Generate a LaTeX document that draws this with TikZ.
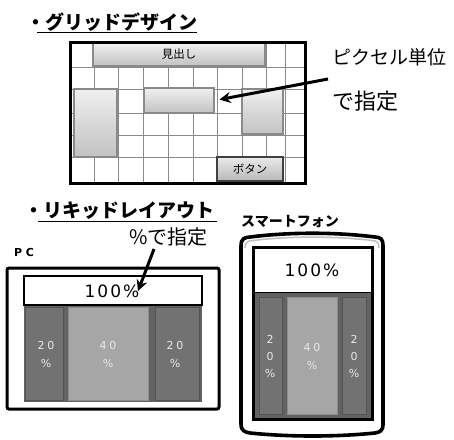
\documentclass[tikz,border=0pt]{standalone}
\usepackage{fontspec}
\newfontfamily\jp{Noto Sans CJK JP}
\newfontfamily\dvfont{DejaVu Sans}[LetterSpace=12]
\newfontfamily\dvthin{DejaVu Sans}[LetterSpace=25]
\usetikzlibrary{arrows.meta}
\definecolor{gridline}{HTML}{8A8A8A}
\definecolor{colbg}{HTML}{626262}
\definecolor{coldark}{HTML}{727272}
\definecolor{collight}{HTML}{A6A6A6}
\definecolor{smalltxt}{HTML}{E8E8E8}
\tikzset{
  gbox/.style={draw=gridline, line width=1.2pt, top color=white!94!black, bottom color=white!76!black, inner sep=0pt},
  frame/.style={draw=black, line width=3pt},
  title/.style={font=\jp\bfseries\fontsize{19}{22}\selectfont, anchor=west, inner sep=0pt},
  note/.style={font=\jp\fontsize{22}{24}\selectfont, anchor=west, inner sep=0pt},
  bigarrow/.style={line width=3pt, -{Stealth[length=11pt,width=11pt]}},
  pct/.style={font=\dvfont\fontsize{17}{20}\selectfont, inner sep=0pt},
  small/.style={font=\dvthin\fontsize{11}{18}\selectfont, text=smalltxt, align=center, inner sep=0pt},
  colrect/.style={draw=none, inner sep=0pt},
}
\begin{document}
\begin{tikzpicture}[x=1pt,y=-1pt]
\useasboundingbox (0,0) rectangle (454,439);
% ---------------- Grid design ----------------
\node[title] (t1) at (26,22) {・グリッドデザイン};
\draw[line width=1pt] (37,32.5) -- (197,32.5);
\coordinate (gtl) at (70,42);
\coordinate (gbr) at (305,183);
\foreach \x in {94,118,143,168,193,217,242,266,285} \draw[gridline, line width=0.9pt] (\x,42) -- (\x,183);
\foreach \y in {67,89,113,135,157} \draw[gridline, line width=0.9pt] (70,\y) -- (305,\y);
\node[gbox, minimum width=172pt, minimum height=23pt, font=\jp\fontsize{11.5}{13}\selectfont] (head) at (179,54.5) {見出し};
\node[gbox, minimum width=43pt, minimum height=68pt] (lbox) at (95.5,123) {};
\node[gbox, minimum width=70pt, minimum height=25pt] (mbox) at (179,100.5) {};
\node[gbox, minimum width=41pt, minimum height=45pt] (rbox) at (262.5,111.5) {};
\node[draw=black!75, line width=1.2pt, top color=white!92!black, bottom color=white!72!black, minimum width=66pt, minimum height=24pt, inner sep=0pt, font=\jp\fontsize{11.5}{13}\selectfont] (btn) at (250,169) {ボタン};
\draw[frame] (gtl) rectangle (gbr);
\node[note, font=\jp\fontsize{19}{22}\selectfont] (px1) at (332,57) {ピクセル単位};
\node[note] (px2) at (332,101) {で指定};
\coordinate (a1s) at (328,79);
\draw[bigarrow, shorten >=5pt] (a1s) -- (mbox.east);
% ---------------- Liquid layout ----------------
\node[title] (t2) at (24,211) {・リキッドレイアウト};
\draw[line width=1pt] (38,221.5) -- (217,221.5);
\node[note, font=\jp\fontsize{20}{22}\selectfont] (pctnote) at (129,237) {\%で指定};
\node[font=\fontspec{DejaVu Sans Bold}\fontsize{11}{13}\selectfont, inner sep=0pt] (pclabel) at (24,252) {P\,\,C};
% PC
\draw[line width=3pt, rounded corners=2pt] (7,268) rectangle (219,409);
\node[colrect, fill=colbg, minimum width=178pt, minimum height=97pt] (pcbg) at (113,353.5) {};
\node[colrect, fill=coldark, draw=colbg!85!black, line width=0.6pt, minimum width=38pt, minimum height=93pt] (pcl) at (44.5,353.5) {};
\node[colrect, fill=collight, draw=black!45, line width=0.8pt, minimum width=80pt, minimum height=93pt] (pcm) at (108.5,353.5) {};
\node[colrect, fill=coldark, draw=colbg!85!black, line width=0.6pt, minimum width=44pt, minimum height=93pt] (pcr) at (177,353.5) {};
\node[small] at (46,354) {20\\\%};
\node[small] at (108,354) {40\\\%};
\node[small] at (175,354) {20\\\%};
\node[draw=black, line width=2.6pt, fill=white, minimum width=178pt, minimum height=29pt, inner sep=0pt] (pctop) at (113,290.5) {};
\node[pct] (pc100) at (112,291.5) {100\%};
\coordinate (a2s) at (154,249);
\coordinate (a2e) at (138,291);
\draw[bigarrow] (a2s) -- (a2e);
% Smartphone
\node[font=\jp\bfseries\fontsize{14}{16}\selectfont, anchor=west, inner sep=0pt] (sp) at (241,222) {スマートフォン};
\draw[black!25, line width=1.5pt] (245,248) .. controls (245,241) and (249,241) .. (253,240.5) .. controls (290,236) and (335,236) .. (372,240.5) .. controls (377,241) and (379,242) .. (379,248);
\draw[line width=3.6pt] (241,246) .. controls (241,238) and (245,237.5) .. (250,237) .. controls (290,232) and (335,232) .. (375,237) .. controls (380,237.5) and (383,238) .. (383,246) -- (383,424) .. controls (383,431) and (380,432) .. (375,433) .. controls (335,437) and (290,437) .. (250,433) .. controls (245,432) and (241,431) .. (241,424) -- cycle;
\node[colrect, fill=colbg, minimum width=119pt, minimum height=127pt] (spbg) at (312.5,355.5) {};
\node[colrect, fill=coldark, draw=colbg!85!black, line width=0.6pt, minimum width=23pt, minimum height=117pt] (spl) at (270.5,355.5) {};
\node[colrect, fill=collight, draw=black!45, line width=0.8pt, minimum width=50pt, minimum height=117pt] (spm) at (312,355.5) {};
\node[colrect, fill=coldark, draw=colbg!85!black, line width=0.6pt, minimum width=24pt, minimum height=117pt] (spr) at (354,355.5) {};
\node[small, font=\dvthin\fontsize{11}{17}\selectfont] at (270,356) {2\\0\\\%};
\node[small] at (312,356) {40\\\%};
\node[small, font=\dvthin\fontsize{11}{17}\selectfont] at (354,356) {2\\0\\\%};
\node[draw=black, line width=1pt, fill=white, minimum width=119pt, minimum height=45pt, inner sep=0pt] (sptop) at (312.5,269.5) {};
\node[pct] (sp100) at (312,270) {100\%};
\draw[line width=3pt] (253,247) rectangle (372,419);
\end{tikzpicture}
\end{document}
